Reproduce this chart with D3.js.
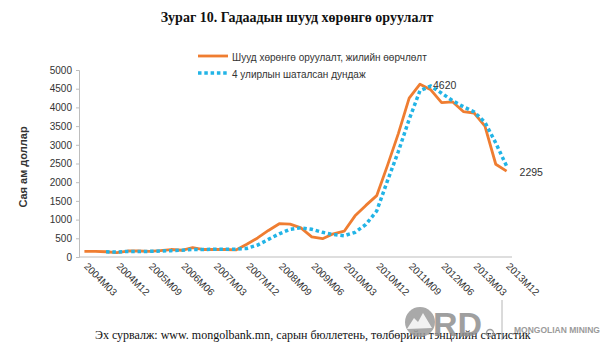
<!DOCTYPE html>
<html><head><meta charset="utf-8">
<script src="https://cdn.jsdelivr.net/npm/d3@7"></script>
<style>body{margin:0;background:#fff}svg{display:block}</style>
</head><body>
<svg id="c" width="610" height="355"></svg>
<script>
const quarters = ["2004M03","2004M06","2004M09","2004M12","2005M03","2005M06","2005M09","2005M12",
"2006M03","2006M06","2006M09","2006M12","2007M03","2007M06","2007M09","2007M12",
"2008M03","2008M06","2008M09","2008M12","2009M03","2009M06","2009M09","2009M12",
"2010M03","2010M06","2010M09","2010M12","2011M03","2011M06","2011M09","2011M12",
"2012M03","2012M06","2012M09","2012M12","2013M03","2013M06","2013M09","2013M12"];
const tickLabels = ["2004M03","2004M12","2005M09","2006M06","2007M03","2007M12","2008M09",
"2009M06","2010M03","2010M12","2011M09","2012M06","2013M03","2013M12"];
const fdiYoY = [150,150,140,115,160,160,150,170,200,180,250,200,200,200,190,340,510,710,890,880,
780,540,490,620,690,1100,1380,1640,2450,3300,4250,4620,4470,4130,4150,3890,3850,3500,2480,2295];
const movingAvg = [null,null,140,130,150,150,150,160,170,180,200,200,210,210,210,230,320,470,620,740,
780,740,660,600,570,660,870,1230,2040,2820,3680,4450,4570,4380,4180,4020,3880,3600,3050,2430];
const yTicks = [0,500,1000,1500,2000,2500,3000,3500,4000,4500,5000];
const seriesNames = ["Шууд хөрөнгө оруулалт, жилийн өөрчлөлт","4 улирлын шаталсан дундаж"];
const annotations = [{i:31, text:"4620"},{i:39, text:"2295"}];
const title = "Зураг 10. Гадаадын шууд хөрөнгө оруулалт";
const yTitle = "Сая ам доллар";
const source = "Эх сурвалж: www. mongolbank.mn, сарын бюллетень, төлбөрийн тэнцлийн статистик";

const ORANGE = "#EF7D31", BLUE = "#22B4E6", AXIS = "#BDBDBD", TXT = "#333";
const sans = "'Liberation Sans', Arial, sans-serif", serif = "'Liberation Serif','Times New Roman',serif";
const svg = d3.select("#c");
const L = 79, R = 512, T = 70, B = 257;

const x = d3.scaleBand().domain(quarters).range([L, R]).padding(0);
const cx = q => x(q) + x.bandwidth()/2;
const y = d3.scaleLinear().domain([0,5000]).range([B, T]);

// title
svg.append("text").attr("x", 297).attr("y", 22).attr("text-anchor","middle")
  .attr("font-family", serif).attr("font-weight","bold").attr("font-size", 14).attr("fill","#111").text(title);

// y axis
const ya = svg.append("g").attr("transform", `translate(${L},0)`)
  .call(d3.axisLeft(y).tickValues(yTicks).tickFormat(d3.format("d")).tickSize(3).tickPadding(4));
ya.select(".domain").attr("stroke", AXIS);
ya.selectAll(".tick line").attr("stroke", AXIS);
ya.selectAll("text").attr("font-family", sans).attr("font-size", 10).attr("fill", TXT);

// x axis
const xa = svg.append("g").attr("transform", `translate(0,${B})`)
  .call(d3.axisBottom(x).tickValues(tickLabels).tickSize(0).tickPadding(0));
xa.select(".domain").attr("stroke", AXIS).attr("d", `M${L},0H${R}`);
xa.selectAll("text").attr("font-family", sans).attr("font-size", 10).attr("fill", TXT)
  .attr("text-anchor","start").attr("dy", null).attr("y", 0)
  .attr("transform","translate(-1,10) rotate(45)");

// y title
svg.append("text").attr("transform","translate(27,167) rotate(-90)").attr("text-anchor","middle")
  .attr("font-family", sans).attr("font-weight","bold").attr("font-size", 11).attr("fill", TXT).text(yTitle);

// lines
const lineO = d3.line().x((d,i)=>cx(quarters[i])).y(d=>y(d)).defined(d=>d!=null);
svg.append("path").datum(fdiYoY).attr("d", lineO).attr("fill","none")
  .attr("stroke", ORANGE).attr("stroke-width", 2.8).attr("stroke-linejoin","round");
svg.append("path").datum(movingAvg).attr("d", lineO).attr("fill","none")
  .attr("stroke", BLUE).attr("stroke-width", 3.5).attr("stroke-dasharray","3.5,2.8");

// annotations
svg.selectAll("text.ann").data(annotations).enter().append("text").attr("class","ann")
  .attr("x", d=>cx(quarters[d.i]) + 13).attr("y", d=>y(fdiYoY[d.i]) + 5)
  .attr("font-family", sans).attr("font-size", 10.5).attr("fill", TXT).text(d=>d.text);

// legend
const lg = svg.append("g");
[0,1].forEach(k=>{
  const yy = 56 + k*17;
  lg.append("line").attr("x1",198).attr("x2",228).attr("y1",yy).attr("y2",yy)
    .attr("stroke", k===0?ORANGE:BLUE).attr("stroke-width", k===0?2.8:3.5)
    .attr("stroke-dasharray", k===0?null:"3.5,2.8");
  lg.append("text").attr("x",232).attr("y",yy+5).attr("font-family",sans).attr("font-size",10)
    .attr("fill",TXT).text(seriesNames[k]);
});

// source
svg.append("text").attr("x", 95).attr("y", 339).attr("font-family", serif).attr("font-size", 12)
  .attr("fill","#111").text(source);

// logo watermark
const lo = svg.append("g").attr("opacity",0.85);
lo.append("circle").attr("cx",420).attr("cy",322).attr("r",15).attr("fill","#9b9b9b");
lo.append("path").attr("d","M407,329 L414,318 L418,322 L423,313 L432,328 Z").attr("fill","#fff").attr("opacity",0.85);
lo.append("text").attr("x",433).attr("y",336).attr("font-family",sans).attr("font-weight","bold")
  .attr("font-size",34).attr("fill","#8f8f8f").text("RD");
lo.append("circle").attr("cx",490).attr("cy",333).attr("r",3.5).attr("fill","none").attr("stroke","#8f8f8f").attr("stroke-width",1.5);
lo.append("line").attr("x1",502).attr("x2",502).attr("y1",300).attr("y2",340).attr("stroke","#aaa");
lo.append("text").attr("x",514).attr("y",333).attr("font-family",sans).attr("font-weight","bold")
  .attr("font-size",8.5).attr("fill","#8a8a8a").text("MONGOLIAN MINING");
</script>
</body></html>
